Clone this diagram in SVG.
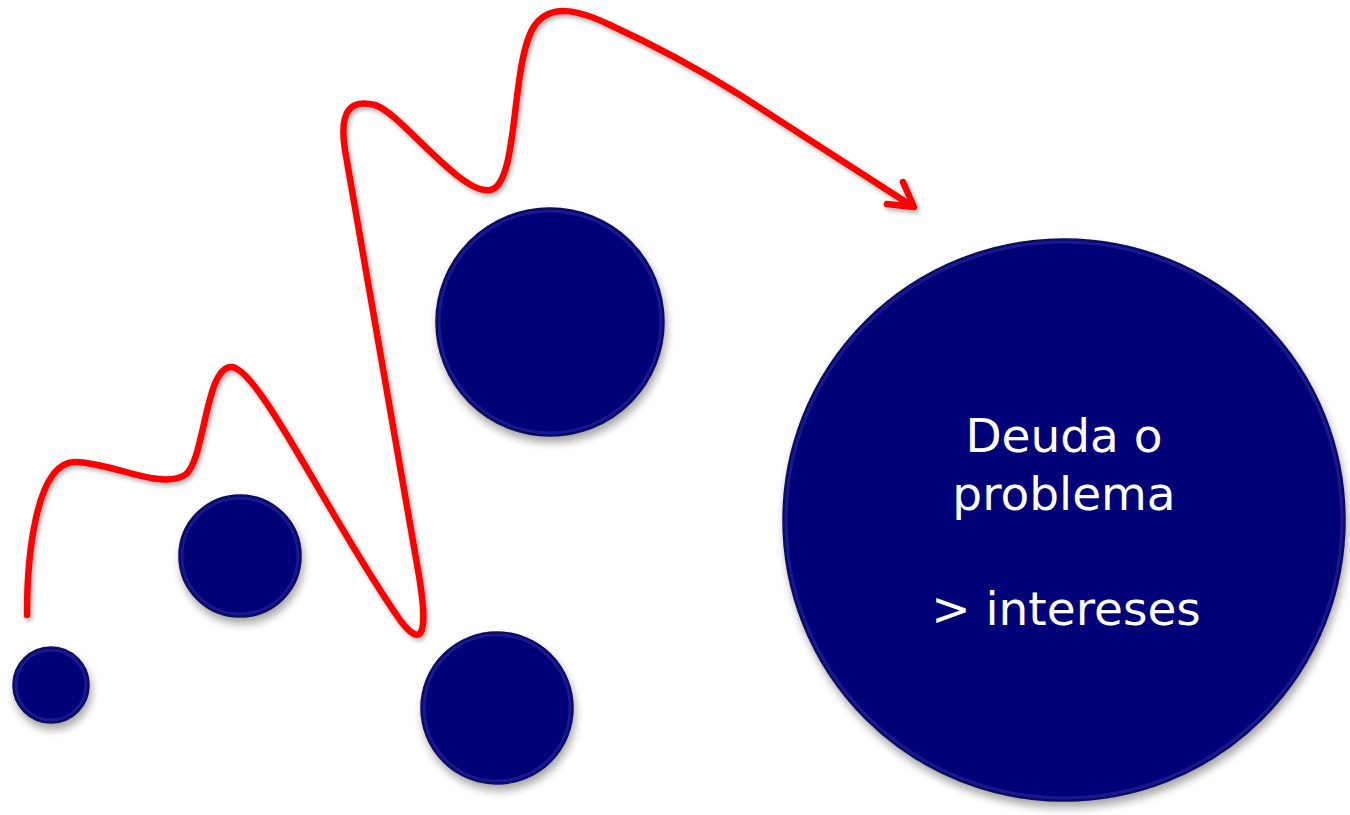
<svg xmlns="http://www.w3.org/2000/svg" width="1350" height="815" viewBox="0 0 1350 815">
<defs>
<filter id="sh" x="-20%" y="-20%" width="140%" height="150%">
<feGaussianBlur in="SourceAlpha" stdDeviation="4"/>
<feOffset dx="2" dy="6" result="b"/>
<feComponentTransfer><feFuncA type="linear" slope="0.35"/></feComponentTransfer>
<feMerge><feMergeNode/><feMergeNode in="SourceGraphic"/></feMerge>
</filter>
<filter id="lsh" x="-10%" y="-10%" width="120%" height="120%">
<feGaussianBlur in="SourceAlpha" stdDeviation="2"/>
<feOffset dx="2" dy="3"/>
<feComponentTransfer><feFuncA type="linear" slope="0.3"/></feComponentTransfer>
<feMerge><feMergeNode/><feMergeNode in="SourceGraphic"/></feMerge>
</filter>
</defs>
<style>
.n{fill:#050577;stroke:#0a0a55;stroke-width:1.5;filter:url(#sh)}
.b{fill:none;stroke:#2a2a9c;stroke-width:3;stroke-opacity:0.6}
.t{font-family:"DejaVu Sans",Verdana,sans-serif;font-size:47px;fill:#ffffff;text-anchor:middle}
.c{fill:none;stroke:#ff0000;stroke-width:6.5;stroke-linecap:round;stroke-linejoin:round}
</style>
<rect width="1350" height="815" fill="#ffffff"/>
<g id="n1"><circle class="n" cx="51" cy="685" r="38"/><circle class="b" cx="51" cy="685" r="35"/></g>
<g id="n2"><circle class="n" cx="240" cy="556" r="61"/><circle class="b" cx="240" cy="556" r="58"/></g>
<g id="n3"><circle class="n" cx="550" cy="322" r="114"/><circle class="b" cx="550" cy="322" r="111"/></g>
<g id="n4"><circle class="n" cx="497" cy="708" r="76"/><circle class="b" cx="497" cy="708" r="73"/></g>
<g id="n5"><circle class="n" cx="1064" cy="520" r="281"/><circle class="b" cx="1064" cy="520" r="278"/>
<text class="t" x="1064" y="452">Deuda o</text>
<text class="t" x="1064" y="510">problema</text>
<text class="t" x="1066" y="625">&gt; intereses</text>
</g>
<g id="connectors" filter="url(#lsh)">
<path class="c" d="M27,615 C27,560 35,462 75,462 C110,462 160,490 185,475 C205,462 205,365 232,367 C260,370 330,520 400,620 C430,660 425,610 418,570 L345,150 C338,105 355,100 375,105 C400,112 460,195 490,190 C520,185 510,60 535,25 C550,5 575,8 610,25 C660,48 700,70 740,95 L912,206"/>
<path class="c" d="M903,182 L914,207 L887,204"/>
</g>
</svg>
